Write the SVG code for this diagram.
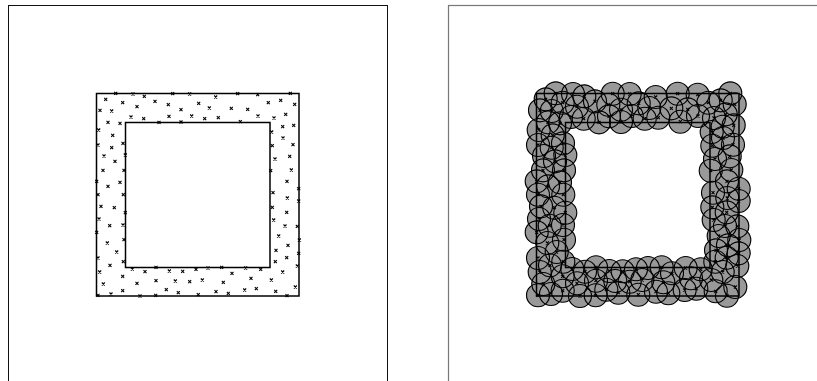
<svg xmlns="http://www.w3.org/2000/svg" xmlns:xlink="http://www.w3.org/1999/xlink" width="817" height="381" viewBox="0 0 817 381">
<style>
.frame{fill:none;stroke:#111;stroke-width:1}
.frame2{fill:none;stroke:#777;stroke-width:1.2}
.sq{fill:none;stroke:#000;stroke-width:1.5}
.pts{fill:none;stroke:none}
.xm{marker-start:url(#mx);marker-mid:url(#mx);marker-end:url(#mx)}
.cf{marker-start:url(#mcf);marker-mid:url(#mcf);marker-end:url(#mcf)}
.cs{marker-start:url(#mcs);marker-mid:url(#mcs);marker-end:url(#mcs)}
</style>
<defs>
<marker id="mx" markerUnits="userSpaceOnUse" markerWidth="6" markerHeight="6" refX="3" refY="3" overflow="visible">
<path d="M1.5,1.5L4.5,4.5M4.5,1.5L1.5,4.5" stroke="#000" stroke-width="1.1" fill="none"/>
</marker>
<marker id="mcf" markerUnits="userSpaceOnUse" markerWidth="24" markerHeight="24" refX="12" refY="12" overflow="visible">
<circle cx="12" cy="12" r="11.5" fill="#999" stroke="none"/>
</marker>
<marker id="mcs" markerUnits="userSpaceOnUse" markerWidth="24" markerHeight="24" refX="12" refY="12" overflow="visible">
<circle cx="12" cy="12" r="11.5" fill="none" stroke="#000" stroke-width="1.15"/>
</marker>
<polyline id="pts" class="pts" points="115.7,93.3 133,94 172.7,93.7 189.7,94 237.7,93.7 257.7,94.7 290.3,93.3 144.3,96.3 215.7,97 105.7,99.3 155,101.3 268.3,102.7 280.7,100.3 294.7,104.3 122.7,102.7 168.3,104.7 198.7,103.3 137,106.7 181,109.7 209.3,108 231.3,108.3 247.7,109.3 100,110.3 111.7,111 131,117 143.7,118.7 169,116.3 191.7,116 204.7,118.7 218.3,117.7 258,116 274,118 285.7,114.3 108,122.3 120,123.3 159,122.3 181,122 240.3,121.7 98.7,130 112.7,135.3 98,145 111.7,147.7 123,143.3 125.3,155 104,156 115,161.3 103,170.3 124,170.3 96.7,181.3 120,182.3 108,186.3 98,194.7 123.3,194.7 101,206.3 114.3,207.7 125.3,212.7 99,219 109.7,225.7 123,225 96.7,232.3 124,239.7 107.3,243 116.7,252 98,258 123.3,261.7 110,265.3 99.7,272 282.7,126.7 293.7,125.3 271.7,132 283,138 293,144.7 272.3,145.7 275,159 289.7,156.3 291.3,170 270.7,170.7 287,181.3 298.7,188.7 273,192.7 287.3,198 298.7,201 272.3,207.3 286.7,212.3 273.7,220 285,226 297.3,226.3 299.3,240 278.7,236 288,245.3 276,250.3 298.7,253.3 286.7,257.7 297.3,266 275.3,261.7 132.3,269 145,271.7 156,267.3 169.3,271 182.7,271.3 196,269.3 208,268 221.7,267.3 232,273.3 245.7,268 260.7,269.3 282.7,272 122.7,276.3 137,283.3 156,280.7 175.3,281 189.7,281.7 202.3,280 223.3,282.3 251,278.3 271.3,280 103.3,284 122.7,290.7 111,294 98,295.3 140,296 155.7,295.3 166.3,289.7 178.3,292.7 198.3,294.7 216,291.7 228.3,293.3 244.7,290 256.3,288.7 275.7,291.3 287,295.7 295.3,287"/>
<g id="squares">
<rect x="96.5" y="93.5" width="202.5" height="202.5"/>
<rect x="125.5" y="122.5" width="144.5" height="145"/>
</g>
</defs>
<g id="panel-left">
<rect class="frame" x="8.5" y="5.5" width="379" height="400"/>
<use xlink:href="#squares" class="sq"/>
<use xlink:href="#pts" class="xm"/>
</g>
<g id="panel-right" transform="translate(440,0)">
<rect class="frame2" x="8.5" y="5.5" width="400" height="400"/>
<use xlink:href="#pts" class="cf"/>
<use xlink:href="#squares" class="sq"/>
<use xlink:href="#pts" class="xm"/>
<use xlink:href="#pts" class="cs"/>
</g>
</svg>
